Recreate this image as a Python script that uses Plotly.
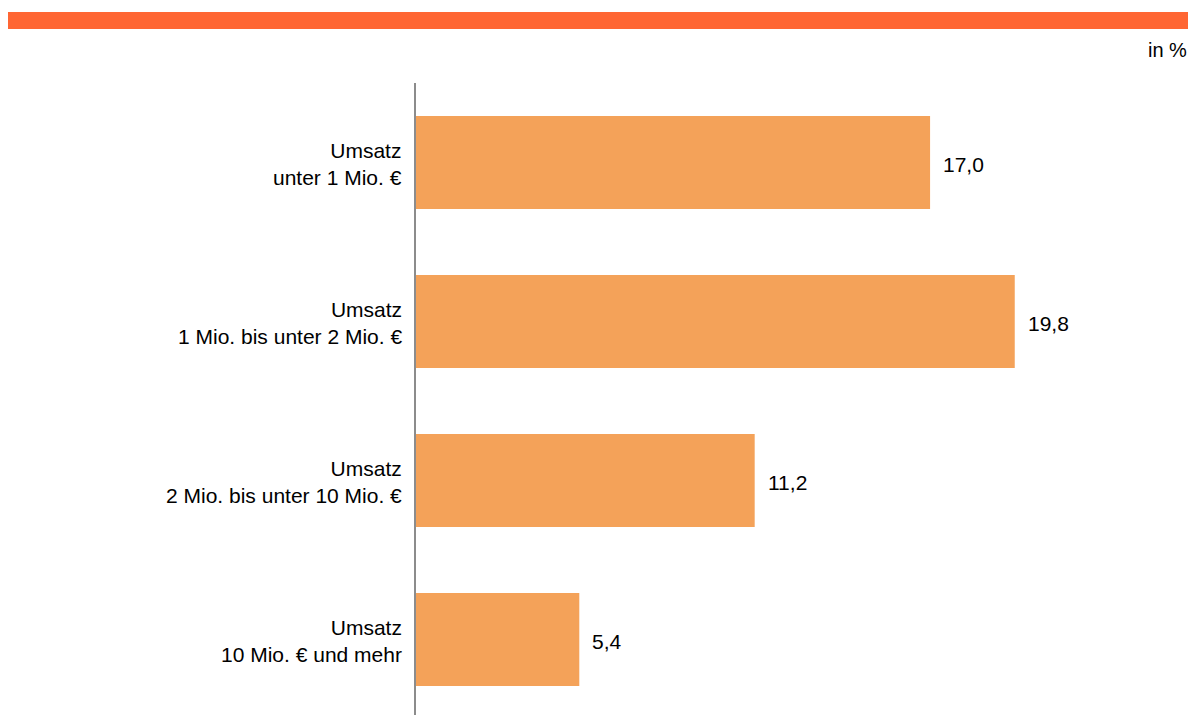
import plotly.graph_objects as go

categories = [
    "Umsatz<br>unter 1 Mio. €",
    "Umsatz<br>1 Mio. bis unter 2 Mio. €",
    "Umsatz<br>2 Mio. bis unter 10 Mio. €",
    "Umsatz<br>10 Mio. € und mehr",
]
values = [17.0, 19.8, 11.2, 5.4]
unit_label = "in %"

# page is rendered with an 8px body margin -> figure coords = screen - 8
W, H = 1196, 715
L, R, T, B = 408, 24, 75, 0
pw, ph = W - L - R, H - T - B
PX_PER_UNIT = 30.24
CAT_STEP = 159.0

def px_x(x):
    return (x - L) / pw

def px_y(y):
    return (H - B - y) / ph

FONT = "Liberation Sans, Arial, sans-serif"
FS = 21

fig = go.Figure()
fig.add_trace(go.Bar(
    y=list(range(len(categories))),
    x=values,
    orientation="h",
    width=0.585,
    marker=dict(color="#F4A259", line=dict(width=0)),
    hoverinfo="skip",
))

for i, v in enumerate(values):
    fig.add_annotation(
        x=v, y=i, xref="x", yref="y",
        text=f"{v:.1f}".replace(".", ","),
        showarrow=False, xanchor="left", yanchor="middle",
        xshift=11, yshift=-2,
        font=dict(family=FONT, size=FS, color="#000000"),
    )

for i, label in enumerate(categories):
    fig.add_annotation(
        x=0, y=i, xref="paper", yref="y",
        text=label, showarrow=False, xanchor="right", yanchor="middle",
        align="right",
        xshift=-12, yshift=-1,
        font=dict(family=FONT, size=FS, color="#000000"),
    )

fig.add_annotation(
    x=px_x(1181), y=px_y(42), xref="paper", yref="paper",
    text=unit_label, showarrow=False, xanchor="right", yanchor="middle",
    font=dict(family=FONT, size=20, color="#000000"),
)

fig.add_shape(
    type="rect", xref="paper", yref="paper",
    x0=px_x(0), x1=px_x(1196), y0=px_y(21), y1=px_y(4),
    fillcolor="#FF6633", line=dict(width=0), layer="above",
)

fig.update_layout(
    width=W, height=H,
    margin=dict(l=L, r=R, t=T, b=B, pad=0),
    paper_bgcolor="white", plot_bgcolor="white",
    showlegend=False,
    xaxis=dict(range=[0, pw / PX_PER_UNIT], visible=False, showgrid=False,
               zeroline=False, fixedrange=True),
    yaxis=dict(
        range=[ph / CAT_STEP - 0.5, -0.5],
        showticklabels=False, ticks="",
        showgrid=False, zeroline=False,
        showline=True, linecolor="#8C8C8C", linewidth=2,
        fixedrange=True,
    ),
)

fig.write_html("out.html")
